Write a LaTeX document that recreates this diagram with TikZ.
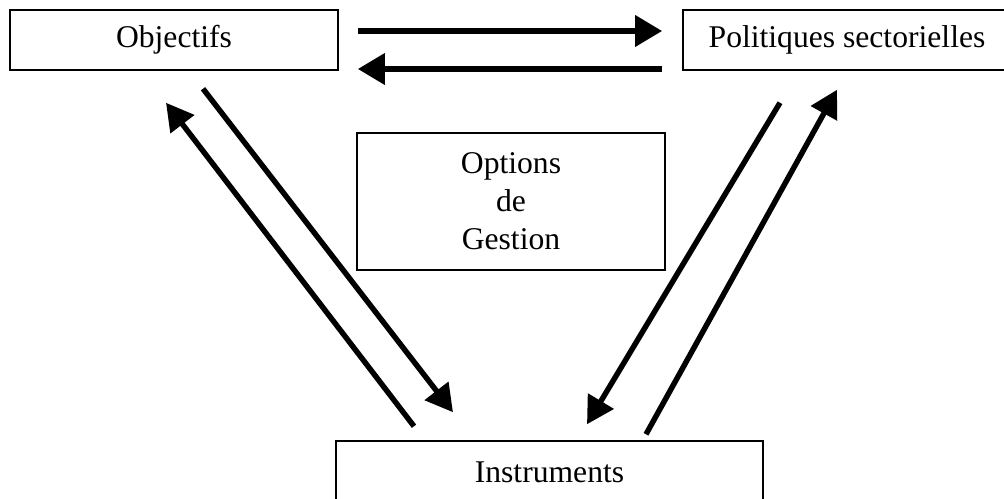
\documentclass[tikz,border=0pt]{standalone}
\usepackage{fontspec}
\setmainfont{Liberation Serif}
\usetikzlibrary{arrows.meta,calc}

\tikzset{
  boite/.style={draw,line width=0.85pt,font=\fontsize{18}{21.6}\selectfont},
  fleche/.style={line width=3.9pt,-{Triangle[length=15.4pt,width=17pt]}},
  flechediag/.style={line width=3.1pt,-{Triangle[length=15.4pt,width=16.5pt]}}
}

\begin{document}
\begin{tikzpicture}[x=0.02cm,y=-0.02cm]
\clip (0,0) rectangle (1004,498);

\node[boite,minimum width=6.56cm,minimum height=1.2cm] (obj) at (174,40) {Objectifs};
\node[boite,minimum width=6.56cm,minimum height=1.2cm] (pol) at (847,40) {Politiques sectorielles};
\node[boite,minimum width=6.16cm,minimum height=2.74cm,align=center] (opt) at (511,201.5) {Options\\de\\Gestion};
\node[boite,minimum width=8.54cm,minimum height=1.24cm] (ins) at (549.5,472) {Instruments};

% fleches du haut
\draw[fleche] ($(obj.east)+(19,-9)$) -- ($(pol.west)+(-20,-9)$);
\draw[fleche] ($(pol.west)+(-20,29)$) -- ($(obj.east)+(19,29)$);

% cote gauche
\draw[flechediag] ($(obj.south)+(29,18)$) -- ($(ins.north)+(-96.5,-28)$);
\draw[flechediag] ($(ins.north)+(-135.5,-14)$) -- ($(obj.south)+(-8,32)$);

% cote droit
\draw[flechediag] ($(pol.south)+(-67,32)$) -- ($(ins.north)+(37.5,-16)$);
\draw[flechediag] ($(ins.north)+(96.5,-6)$) -- ($(pol.south)+(-10,19)$);

\end{tikzpicture}
\end{document}
